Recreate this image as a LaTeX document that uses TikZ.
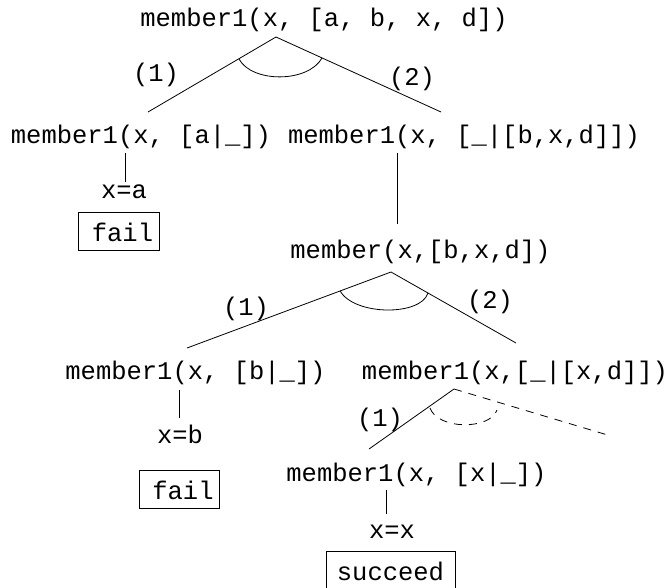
\documentclass[tikz,border=0pt]{standalone}
\usepackage{fontspec}
\setmainfont{Liberation Mono}
\begin{document}
\begin{tikzpicture}[x=1pt,y=-1pt,line width=0.8pt,
  lbl/.style={anchor=base,inner sep=0pt,font=\fontsize{25.5}{30}\selectfont},
  res/.style={lbl,draw,inner xsep=6pt,inner ysep=7pt,text height=22pt,text depth=2pt},
  branch/.style={draw},
  openbranch/.style={draw,dash pattern=on 8pt off 7pt}]
\clip (0,0) rectangle (672,587);
% goals
\node[lbl] (n0) at (324,26) {member1(x, [a, b, x, d])};
\node[lbl] (n1) at (141,143) {member1(x, [a|\_])};
\node[lbl] (n2) at (464,143) {member1(x, [\_|[b,x,d]])};
\node[lbl] (xa) at (124,198) {x=a};
\node[res] (fail1) at (119,241) {\hspace*{7pt}fail};
\node[lbl] (n3) at (420.5,258) {member(x,[b,x,d])};
\node[lbl] (n4) at (195.5,379) {member1(x, [b|\_])};
\node[lbl] (n5) at (515,379) {member1(x,[\_|[x,d]])};
\node[lbl] (xb) at (180,443) {x=b};
\node[res] (fail2) at (179.5,499) {\hspace*{7pt}fail};
\node[lbl] (n6) at (416.5,481) {member1(x, [x|\_])};
\node[lbl] (xx) at (392,538) {x=x};
\node[res,inner xsep=11pt] (succ) at (390.5,580) {succeed};
% clause labels
\node[lbl] (l1) at (156,81) {(1)};
\node[lbl] (l2) at (412,85) {(2)};
\node[lbl] (l3) at (246,315) {(1)};
\node[lbl] (l4) at (490,308) {(2)};
\node[lbl] (l5) at (380,426) {(1)};
% connector points
\coordinate (a0) at (276,37);
\coordinate (e01) at (148,112);
\coordinate (e02) at (441,112);
\coordinate (v1t) at (125,153);
\coordinate (v1b) at (125,182);
\coordinate (v2t) at (397,153);
\coordinate (v2b) at (397,224);
\coordinate (a3) at (391,272);
\coordinate (e34) at (187,348);
\coordinate (e35) at (516,343);
\coordinate (v4t) at (179,390);
\coordinate (v4b) at (179,418);
\coordinate (a5) at (454,389);
\coordinate (e56) at (369,449);
\coordinate (e5x) at (611,436);
\coordinate (v6t) at (386,490);
\coordinate (v6b) at (386,514);
% branches
\path[branch] (e01) -- (a0) -- (e02);
\path[branch] (239,59) .. controls (252,83) and (308,83) .. (322,58);
\path[branch] (v1t) -- (v1b);
\path[branch] (v2t) -- (v2b);
\path[branch] (e34) -- (a3) -- (e35);
\path[branch] (340,291) .. controls (355,316) and (421,316) .. (428,293);
\path[branch] (v4t) -- (v4b);
\path[branch] (e56) -- (a5);
\path[openbranch] (a5) -- (e5x);
\path[openbranch] (430,408) .. controls (438,430) and (490,430) .. (497,410);
\path[branch] (v6t) -- (v6b);
\end{tikzpicture}
\end{document}
